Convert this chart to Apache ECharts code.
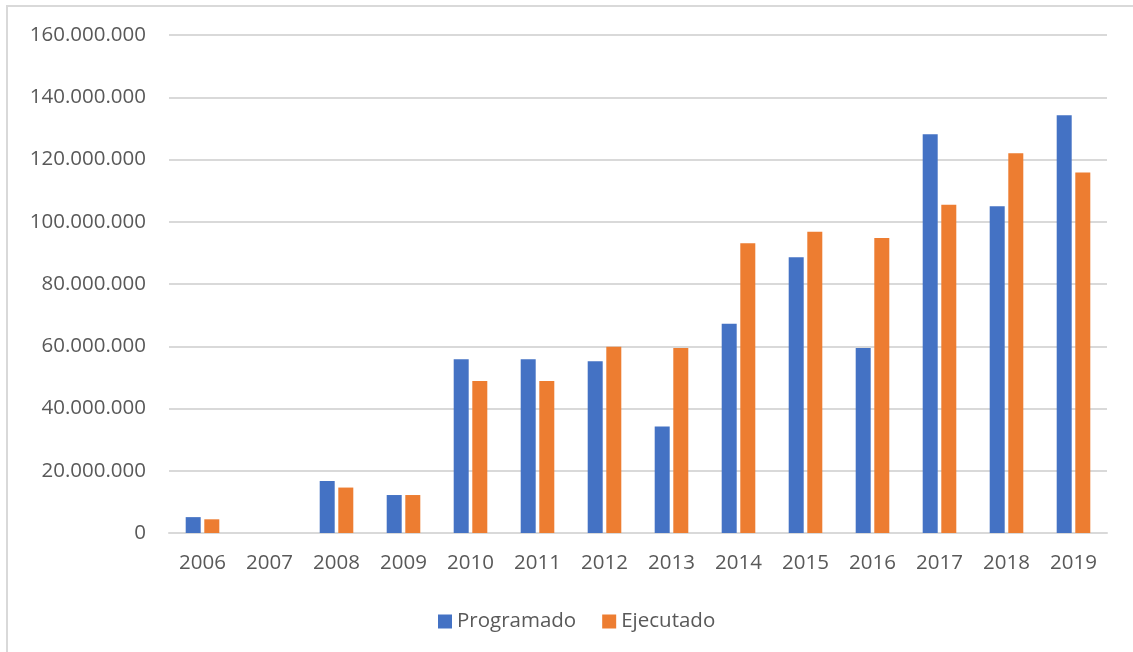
<!DOCTYPE html>
<html>
<head>
<meta charset="utf-8">
<style>
  html, body { margin: 0; padding: 0; background: #ffffff; }
  #chart { width: 1133px; height: 652px; }
</style>
<script src="https://cdn.jsdelivr.net/npm/echarts@6/dist/echarts.min.js"></script>
</head>
<body>
<div id="chart"></div>
<script>
// Annual budget: programmed vs executed amounts
const years = ['2006', '2007', '2008', '2009', '2010', '2011', '2012', '2013', '2014', '2015', '2016', '2017', '2018', '2019'];
const programado = [5100000, 0, 16700000, 12200000, 55800000, 55800000, 55200000, 34200000, 67200000, 88600000, 59400000, 128100000, 105000000, 134200000];
const ejecutado = [4400000, 0, 14600000, 12200000, 48800000, 48800000, 59800000, 59400000, 93100000, 96800000, 94800000, 105500000, 122000000, 115800000];

const FONT = '"Open Sans", "Noto Sans", sans-serif';
const TEXT = '#595959';

function thousands(v) {
  return String(Math.round(v)).replace(/\B(?=(\d{3})+(?!\d))/g, '.');
}

const chart = echarts.init(document.getElementById('chart'), null, { renderer: 'canvas' });
chart.setOption({
  animation: false,
  backgroundColor: '#ffffff',
  textStyle: { fontFamily: FONT },
  graphic: [{
    type: 'rect',
    shape: { x: 7, y: 6, width: 1200, height: 700 },
    style: { fill: 'none', stroke: '#d9d9d9', lineWidth: 2 },
    silent: true,
    z: -1
  }],
  grid: { left: 169, right: 26, top: 35, bottom: 119, containLabel: false },
  legend: {
    left: 433,
    top: 606,
    itemWidth: 14,
    itemHeight: 14,
    itemGap: 26,
    icon: 'rect',
    textStyle: { color: TEXT, fontSize: 20.5, fontFamily: FONT },
    data: ['Programado', 'Ejecutado']
  },
  xAxis: {
    type: 'category',
    data: years,
    axisLine: { show: true, lineStyle: { color: '#d9d9d9', width: 2 } },
    axisTick: { show: false },
    axisLabel: { color: TEXT, fontSize: 20.5, fontFamily: FONT, margin: 20 }
  },
  yAxis: {
    type: 'value',
    min: 0,
    max: 160000000,
    interval: 20000000,
    axisLine: { show: false },
    axisTick: { show: false },
    splitLine: { lineStyle: { color: '#d9d9d9', width: 2 } },
    axisLabel: { color: TEXT, fontSize: 20.5, fontFamily: FONT, margin: 23, formatter: thousands }
  },
  series: [
    {
      name: 'Programado',
      type: 'bar',
      data: programado,
      barWidth: 15,
      barGap: '24%',
      itemStyle: { color: '#4472C4' }
    },
    {
      name: 'Ejecutado',
      type: 'bar',
      data: ejecutado,
      barWidth: 15,
      barGap: '24%',
      itemStyle: { color: '#ED7D31' }
    }
  ]
});
</script>
</body>
</html>
